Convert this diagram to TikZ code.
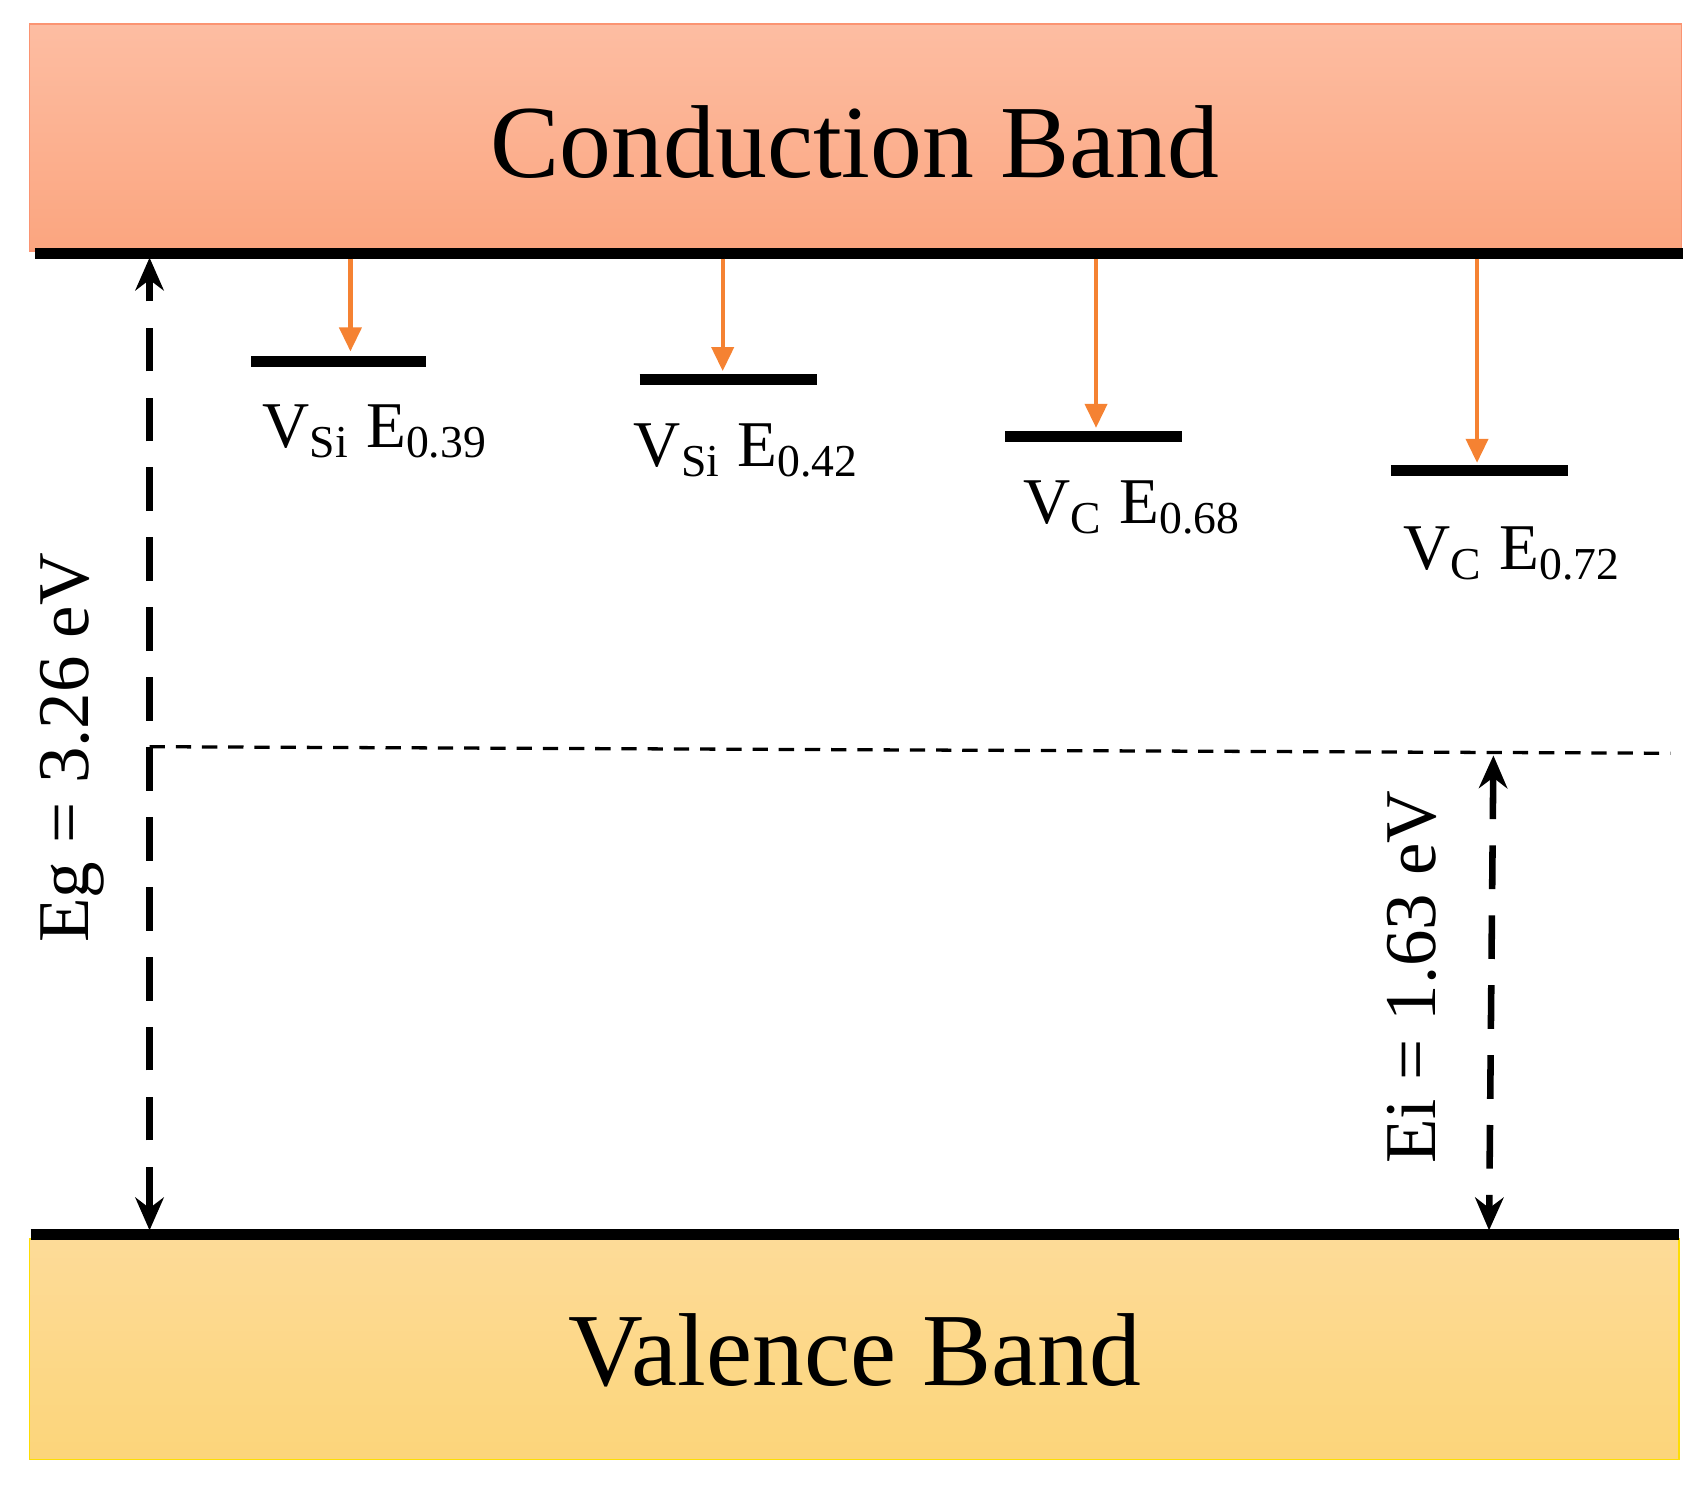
\documentclass[tikz,border=0pt]{standalone}
\usepackage{fontspec}
\setmainfont{Liberation Serif}
\usetikzlibrary{arrows.meta}
\definecolor{cbtop}{HTML}{FDBDA2}
\definecolor{cbbot}{HTML}{FBA57F}
\definecolor{vbtop}{HTML}{FDDB98}
\definecolor{vbbot}{HTML}{FCD57A}
\definecolor{arr}{HTML}{F58232}
\tikzset{
  band/.style={line width=0.12mm},
  edge/.style={line width=0.1cm, line cap=butt},
  level/.style={line width=0.1cm},
  trans/.style={arr, line width=0.04cm, -{Triangle[length=0.22cm,width=0.2cm]}},
  gap/.style={line width=0.06cm, dash pattern=on 0.4cm off 0.24cm, {Stealth[length=0.3cm,width=0.26cm]}-{Stealth[length=0.3cm,width=0.26cm]}},
  lbl/.style={font=\fontsize{17}{20}\selectfont, inner sep=0},
  rlbl/.style={font=\fontsize{19}{22}\selectfont, inner sep=0, rotate=90},
  big/.style={font=\fontsize{27}{32}\selectfont, inner sep=0},
}
\begin{document}
\begin{tikzpicture}[x=0.01cm,y=-0.01cm]
\useasboundingbox (0,0) rectangle (1560,1361);
% bands
\shade[top color=cbtop,bottom color=cbbot] (27,22) rectangle (1540,230);
\draw[band,cbbot!90!red] (27,22) rectangle (1540,230);
\shade[top color=vbtop,bottom color=vbbot] (27,1135) rectangle (1538,1337);
\draw[band,yellow!80!orange] (27,1135) rectangle (1538,1337);
\node[big] (cb) at (783,130) {Conduction Band};
\node[big] (vb) at (783,1237) {Valence Band};
% edges
\coordinate (cl) at (32,232); \coordinate (cr) at (1542,232);
\coordinate (vl) at (28,1131); \coordinate (vr) at (1538,1131);
\draw[edge] (cl) -- (cr);
\draw[edge] (vl) -- (vr);
% levels
\coordinate (l1a) at (230,331); \coordinate (l1b) at (390,331);
\coordinate (l2a) at (586,348); \coordinate (l2b) at (748,348);
\coordinate (l3a) at (921,400); \coordinate (l3b) at (1083,400);
\coordinate (l4a) at (1274,431); \coordinate (l4b) at (1436,431);
\draw[level] (l1a) -- (l1b);
\draw[level] (l2a) -- (l2b);
\draw[level] (l3a) -- (l3b);
\draw[level] (l4a) -- (l4b);
\coordinate (t1) at (321,237); \coordinate (e1) at (321,322);
\coordinate (t2) at (662,237); \coordinate (e2) at (662,340);
\coordinate (t3) at (1004,237); \coordinate (e3) at (1004,392);
\coordinate (t4) at (1353,237); \coordinate (e4) at (1353,424);
\draw[trans] (t1) -- (e1);
\draw[trans] (t2) -- (e2);
\draw[trans] (t3) -- (e3);
\draw[trans] (t4) -- (e4);
\node[lbl,anchor=base west] (n1) at (240,410) {V\textsubscript{Si} E\textsubscript{0.39}};
\node[lbl,anchor=base west] (n2) at (580,427) {V\textsubscript{Si} E\textsubscript{0.42}};
\node[lbl,anchor=base west] (n3) at (937,480) {V\textsubscript{C} E\textsubscript{0.68}};
\node[lbl,anchor=base west] (n4) at (1285,522) {V\textsubscript{C} E\textsubscript{0.72}};
% gaps
\coordinate (eg1) at (137,1127); \coordinate (eg2) at (137,236);
\draw[gap] (eg1) -- (eg2);
\coordinate (m1) at (137,684); \coordinate (m2) at (1530,690);
\draw[line width=0.03cm, dash pattern=on 0.14cm off 0.1cm] (m1) -- (m2);
\coordinate (ei1) at (1368,692); \coordinate (ei2) at (1364,1127);
\draw[gap] (ei1) -- (ei2);
\node[rlbl] (eg) at (66,685) {Eg = 3.26 eV};
\node[rlbl] (ei) at (1293,895) {Ei = 1.63 eV};
\end{tikzpicture}
\end{document}
